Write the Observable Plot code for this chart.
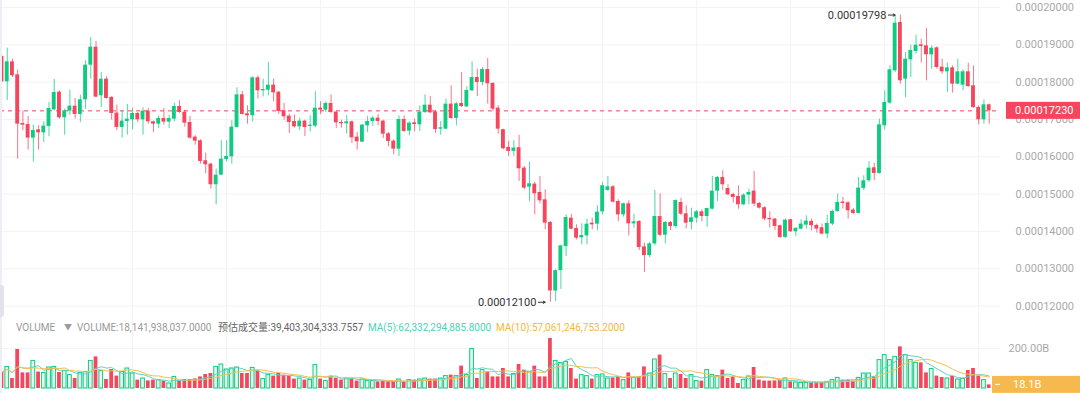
<!DOCTYPE html>
<html><head><meta charset="utf-8">
<script src="https://cdn.jsdelivr.net/npm/d3@7"></script>
<script src="https://cdn.jsdelivr.net/npm/@observablehq/plot@0.6"></script>
<style>
html,body{margin:0;padding:0;background:#fff;}
#wrap{position:relative;width:1080px;height:393px;overflow:hidden;font-family:Roboto,"Noto Sans CJK SC",sans-serif;}
#price{position:absolute;left:0;top:0;}
#vol{position:absolute;left:0;top:313px;}
.h{position:absolute;top:322px;font-size:10px;line-height:12px;white-space:nowrap;}
#edge{position:absolute;left:0;top:0;width:2px;height:393px;background:#eeeef4;}
#handle{position:absolute;left:0;top:285px;width:4px;height:32px;background:#e2e2e8;border-radius:0 3px 3px 0;}
</style></head><body>
<div id="wrap">
  <div id="price"></div>
  <div id="vol"></div>
  <div id="edge"></div><div id="handle"></div>
  <span class="h" style="left:16px;color:#9a9a9a">VOLUME</span>
  <span class="h" style="left:64px;color:#9a9a9a;font-size:8px">▼</span>
  <span class="h" style="left:77px;color:#9a9a9a">VOLUME:18,141,938,037.0000</span>
  <span class="h" style="left:218px;color:#666">预估成交量:39,403,304,333.7557</span>
  <span class="h" style="left:368px;color:#4fd1b5">MA(5):62,332,294,885.8000</span>
  <span class="h" style="left:496px;color:#f3b73f">MA(10):57,061,246,753.2000</span>
</div>
<script>
// prices in units of 1e-8 (17230 -> 0.00017230); volume in billions
const open = [18687,18008,18544,18196,16892,16865,16499,16722,16642,16812,17258,17731,17044,17222,17356,17133,17526,18455,18937,17633,18080,17589,17169,16785,16946,16990,17160,16990,17222,16937,16874,17026,16928,17008,17347,17196,16919,16526,16428,15892,15802,15249,15508,15928,15999,16785,17660,17151,17098,18116,17767,17785,17919,17731,17231,17089,16946,16803,16955,16812,16821,17303,17249,17428,17196,16919,16883,16937,16526,16392,16830,16946,17035,16955,16615,16419,16204,16999,16687,16910,16856,17187,17383,17205,16740,16740,17410,17026,17428,17338,17767,18124,17990,18339,17964,17303,16726,16251,16144,16242,15696,15186,15267,15043,14846,14238,12403,12949,13593,14354,14076,13826,13879,14220,14193,14524,15097,15195,14801,14443,14739,14202,14264,13584,13351,13665,14398,13897,14238,14130,14774,14470,14238,14354,14524,14398,14595,15079,15446,15150,14989,14936,14712,14971,15079,14749,14633,14347,14329,14151,13838,14311,13990,14061,14168,14267,14160,14097,13927,14195,14535,14785,14767,14570,14481,15151,15356,15704,15553,16830,17437,18303,19598,18080,18598,18821,18999,18973,18732,18919,18401,18276,18383,17946,17919,18276,17901,17321,16990,17392];
const high = [18700,18910,18615,18321,17231,17080,16847,16830,16937,17455,18071,17767,17276,17785,17562,17651,18571,19196,19089,18258,18142,17615,17383,17231,17401,17303,17187,17312,17294,16955,17098,17294,17115,17437,17499,17249,17080,16562,16454,16097,15829,15669,16428,16428,16963,17848,17749,17365,18142,18169,18080,18526,18080,17749,17428,17142,17115,17035,16981,17098,17740,17473,17473,17660,17222,16981,17106,16963,16651,16865,17080,17080,17133,16981,16651,16454,17098,17098,16937,17008,17365,17660,17606,17231,16946,17544,17901,17455,18258,17874,18544,18348,18392,18633,17990,17365,16740,16412,16430,16573,15741,15857,15320,15473,15115,14264,12967,13629,14443,14461,14175,14202,14327,14354,14685,15311,15473,15231,14846,14757,14819,14461,14291,13683,13700,15097,15007,14264,14264,14846,14891,14685,14622,14560,14578,14622,15473,15473,15625,15249,15025,15222,15007,15133,15606,14776,14660,14526,14347,14168,14329,14329,14106,14311,14418,14329,14195,14195,14436,14570,14999,14910,14793,14615,15446,15490,15865,15829,17008,17767,18437,19776,19798,18794,18990,19258,19151,19437,18973,18946,18615,18508,18437,18615,18330,18508,18437,17365,17526,17410];
const low = [18000,17508,18124,15936,16696,16178,15856,16178,16383,16535,17231,17008,16580,17106,17008,16919,17276,18080,17580,17321,17544,16981,16696,16499,16580,16722,16919,16580,16874,16651,16758,16847,16758,16937,17160,16794,16472,16312,15802,15544,15133,14704,15490,15865,15802,16767,17115,16874,16937,17544,17606,17633,17473,17133,16981,16624,16767,16705,16544,16669,16776,17133,17187,17160,16758,16767,16606,16356,16178,16383,16642,16812,16830,16490,16267,16053,16008,16651,16562,16669,16678,17160,17160,16633,16580,16722,17008,16830,17321,17312,17749,17615,17901,17410,17231,16606,16189,16010,16010,15338,15115,14801,14443,14739,14041,12100,12116,12447,13325,14041,13772,13638,13638,14041,14014,14443,15079,14757,14264,14381,13879,14085,13486,12895,13298,13611,13862,13665,14023,14085,14425,14067,14041,14220,14255,14112,14578,14801,15097,14953,14757,14595,14694,14712,14668,14597,14285,14088,14017,13811,13811,13972,13865,14043,14061,14017,13954,13909,13811,14151,14508,14597,14329,14454,14463,15088,15312,15356,15535,16722,17410,18260,17946,17589,18124,18749,18508,18035,18348,18348,18214,17722,17705,17937,17767,17857,17294,16856,16874,16874];
const close = [18008,18544,18169,16874,16847,16499,16705,16642,16821,17294,17722,17044,17231,17356,17133,17526,18455,18937,17598,18080,17562,17160,16785,16955,17008,17160,16990,17222,16937,16874,17026,16928,17026,17347,17187,16901,16499,16419,15874,15785,15249,15508,15936,16008,16794,17660,17133,17098,18116,17767,17803,17919,17714,17213,17071,16919,16803,16955,16785,16847,17303,17249,17428,17187,16910,16883,16937,16508,16401,16847,16946,17035,16946,16606,16410,16204,16999,16678,16901,16865,17196,17383,17178,16731,16776,17410,17026,17419,17347,17776,18124,17990,18339,17955,17276,16740,16215,16144,16233,15678,15159,15276,15007,14819,14220,12403,12949,13611,14372,14058,13817,13888,14193,14175,14515,15222,15195,14783,14443,14739,14202,14255,13566,13351,13665,14398,13897,14238,14130,14828,14461,14220,14363,14524,14398,14613,15079,15446,15249,14980,14909,14712,14971,15043,14731,14624,14329,14311,14133,13838,14302,13990,14079,14195,14276,14151,14061,13927,14213,14535,14776,14749,14552,14481,15160,15356,15695,15553,16856,17455,18330,19580,18035,18615,18848,18990,18955,18732,18910,18392,18276,18383,17946,18276,18276,17883,17321,16990,17392,17230];
const volume = [83,108,50,195,78,78,138,82,78,105,108,80,87,67,50,78,83,138,158,87,45,95,62,83,100,75,42,50,38,42,42,37,25,58,37,45,45,48,58,70,75,108,120,95,100,105,75,75,103,87,47,67,62,75,67,62,47,50,42,42,117,47,37,62,50,42,50,50,37,45,38,37,33,37,33,33,45,33,42,42,45,50,47,47,50,62,67,62,112,67,197,50,92,83,58,58,100,58,72,120,92,83,112,58,58,250,138,128,133,100,47,67,62,47,67,70,50,53,58,42,78,53,58,108,75,145,167,72,50,75,70,50,67,37,37,92,67,62,92,50,58,25,42,60,105,42,37,37,38,42,50,33,30,28,28,28,28,30,33,42,53,42,42,37,53,75,75,58,142,167,142,158,208,167,142,128,128,78,97,62,55,50,60,45,48.5,90,100,62,42,18.1];

const UP = "#0ecb81", DOWN = "#f6465d";
const data = open.map((o, i) => ({i, open: o, high: high[i], low: low[i], close: close[i], vol: volume[i], up: close[i] >= o}));
const priceTicks = [12000,13000,14000,15000,16000,17000,18000,19000,20000];
const timeGrid = [25,43,61,79,97,115,133,151,169,187];
const fmt = v => (v / 1e8).toFixed(8);
const xDomain = [-0.287, 191.17];
const last = data[data.length - 1];
const hi = data.reduce((a, b) => b.high > a.high ? b : a);
const lo = data.reduce((a, b) => b.low < a.low ? b : a);
const grid = "#f3f3f3";
const font = "Roboto, sans-serif";

const price = Plot.plot({
  width: 1080, height: 313, marginLeft: 0, marginRight: 80, marginTop: 0, marginBottom: 0,
  style: {fontFamily: font, fontSize: "11px", background: "transparent", overflow: "visible"},
  x: {type: "linear", domain: xDomain, axis: null},
  y: {domain: [11799, 20188], axis: null},
  marks: [
    Plot.gridY(priceTicks, {stroke: grid, strokeOpacity: 1}),
    Plot.gridX(timeGrid, {stroke: grid, strokeOpacity: 1}),
    Plot.ruleY([last.close], {stroke: DOWN, strokeDasharray: "4,4", strokeWidth: 1}),
    Plot.ruleX(data, {x: "i", y1: "low", y2: "high", stroke: d => d.up ? UP : DOWN, strokeWidth: 1, strokeOpacity: 0.75}),
    Plot.rect(data, {x1: d => d.i - 0.37, x2: d => d.i + 0.37, y1: "open", y2: "close", fill: d => d.up ? UP : DOWN}),
    Plot.axisY(priceTicks, {anchor: "right", label: null, tickSize: 0, tickPadding: 15, tickFormat: fmt, fill: "#a9a9a9", fontSize: 11}),
    Plot.text([hi], {x: "i", y: "high", text: d => fmt(d.high), textAnchor: "end", dx: -14, fill: "#333", fontSize: 11}),
    Plot.arrow([hi], {x1: d => d.i - 2.3, x2: d => d.i - 1, y1: "high", y2: "high", stroke: "#333", strokeWidth: 1, headLength: 4}),
    Plot.text([lo], {x: "i", y: "low", text: d => fmt(d.low), textAnchor: "end", dx: -14, fill: "#333", fontSize: 11}),
    Plot.arrow([lo], {x1: d => d.i - 2.3, x2: d => d.i - 1, y1: "low", y2: "low", stroke: "#333", strokeWidth: 1, headLength: 4})
  ]
});
{
  const yy = price.scale("y").apply(last.close);
  const s = d3.select(price);
  s.append("rect").attr("x", 1006).attr("y", yy - 8.5).attr("width", 74).attr("height", 17).attr("fill", DOWN);
  s.append("text").attr("x", 1015).attr("y", yy).attr("dy", "0.35em").attr("fill", "#fff")
    .attr("text-anchor", "start").attr("font-size", 11).attr("font-family", font).text(fmt(last.close));
}
document.getElementById("price").appendChild(price);

const vol = Plot.plot({
  width: 1080, height: 80, marginLeft: 0, marginRight: 80, marginTop: 0, marginBottom: 5,
  style: {fontFamily: font, fontSize: "11px", background: "transparent", overflow: "visible"},
  x: {type: "linear", domain: xDomain, axis: null},
  y: {domain: [0, 375], axis: null},
  marks: [
    Plot.gridY([200], {stroke: grid, strokeOpacity: 1}),
    Plot.gridX(timeGrid, {stroke: grid, strokeOpacity: 1}),
    Plot.rect(data, {x1: d => d.i - 0.36, x2: d => d.i + 0.36, y1: 0, y2: "vol",
      fill: d => d.up ? "#e4f8f0" : DOWN, stroke: d => d.up ? UP : "none", strokeWidth: 1, inset: 0}),
    Plot.lineY(data, Plot.windowY({k: 5, anchor: "end"}, {x: "i", y: "vol", stroke: "#5ad4c0", strokeWidth: 1})),
    Plot.lineY(data, Plot.windowY({k: 10, anchor: "end"}, {x: "i", y: "vol", stroke: "#f6bd4f", strokeWidth: 1})),
    Plot.axisY([200], {anchor: "right", label: null, tickSize: 0, tickPadding: 8, tickFormat: d => d.toFixed(2) + "B", fill: "#a9a9a9", fontSize: 11})
  ]
});
{
  const yy = vol.scale("y").apply(last.vol);
  const s = d3.select(vol);
  s.append("rect").attr("x", 992).attr("y", yy - 8.5).attr("width", 88).attr("height", 17).attr("fill", "#f5b94f");
  s.append("line").attr("x1", 995).attr("x2", 1000).attr("y1", yy).attr("y2", yy).attr("stroke", "#fff");
  s.append("text").attr("x", 1013).attr("y", yy).attr("dy", "0.35em").attr("fill", "#fff")
    .attr("text-anchor", "start").attr("font-size", 11).attr("font-family", font).text(last.vol.toFixed(1) + "B");
}
document.getElementById("vol").appendChild(vol);
</script>
</body></html>
